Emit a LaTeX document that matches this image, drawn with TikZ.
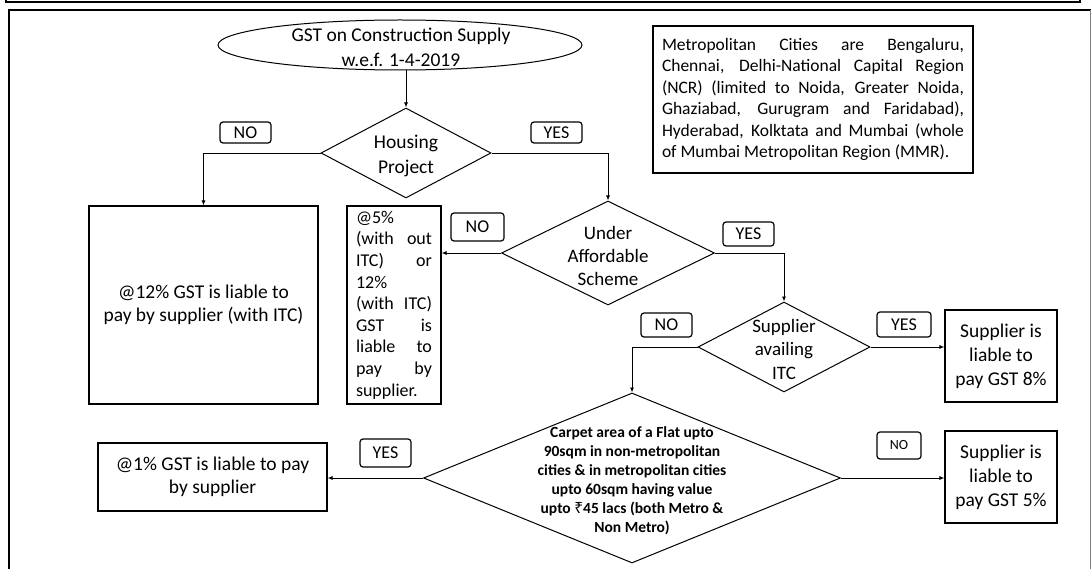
\documentclass[tikz,border=0pt]{standalone}
\usepackage{fontspec}
\setmainfont{Carlito}
\newfontfamily\rupeefont{Noto Sans}
\usetikzlibrary{shapes.geometric,arrows.meta}
\newcommand\fsz[2]{\fontsize{#1}{#2}\selectfont}
\tikzset{
  conn/.style={line width=0.9pt, -{Latex[length=5pt,width=4pt]}},
  dia/.style={draw, diamond, line width=1pt, inner sep=0pt},
  box/.style={draw, rectangle, line width=1.1pt, inner sep=0pt, align=center},
  lab/.style={draw, rectangle, rounded corners=3pt, line width=1.2pt, inner sep=0pt, font=\fsz{18}{18}},
  txt/.style={inner sep=0pt, align=center},
}
\begin{document}
\begin{tikzpicture}[x=1pt,y=-1pt]
\useasboundingbox (0,0) rectangle (1091,569);
% frame
\draw[line width=1.6pt] (6,-6) -- (6,2) -- (1080,2) -- (1080,-6);
\draw[line width=2pt] (8,10) -- (1092,10);
\draw[line width=1.5pt] (9,10) -- (9,570);
\draw[gray, line width=0.8pt] (1090,10) -- (1090,570);

% start ellipse
\node[draw, ellipse, line width=1pt, minimum width=364pt, minimum height=50pt, inner sep=0pt] (start) at (400,45) {};
\node[txt, font=\fsz{19.5}{25}] (startt) at (401,47) {GST on Construction Supply\\w.e.f. 1-4-2019};

% diamonds
\node[dia, minimum width=170pt, minimum height=90pt] (housing) at (406,153) {};
\node[txt, font=\fsz{19.5}{25}] (housingt) at (406,156) {Housing\\Project};

\node[dia, minimum width=213pt, minimum height=104pt] (under) at (608,253) {};
\node[txt, font=\fsz{19}{23}] (undert) at (608,256) {Under\\Affordable\\Scheme};

\node[dia, minimum width=172pt, minimum height=90pt] (supp) at (784,347) {};
\node[txt, font=\fsz{19}{23.5}] (suppt) at (784,349) {Supplier\\availing\\ITC};

\node[dia, minimum width=417pt, minimum height=170pt] (carpet) at (632,478) {};
\node[txt, font=\bfseries\fsz{15.5}{19}] (carpett) at (632,481) {Carpet area of a Flat upto\\90sqm in non-metropolitan\\cities \& in metropolitan cities\\upto 60sqm having value\\upto {\rupeefont ₹}45 lacs (both Metro \&\\Non Metro)};

% boxes
\node[box, minimum width=229pt, minimum height=198pt, font=\fsz{19.5}{23}] (b12) at (203.5,305) {@12\% GST is liable to\\pay by supplier (with ITC)};
\node[box, minimum width=94pt, minimum height=198pt, font=\fsz{18}{21.6}, align=left] (b5) at (394,305) {\makebox[76pt][l]{@5\%}\\\makebox[76pt][s]{(with out}\\\makebox[76pt][s]{ITC) or}\\\makebox[76pt][l]{12\%}\\\makebox[76pt][s]{(with ITC)}\\\makebox[76pt][s]{GST is}\\\makebox[76pt][s]{liable to}\\\makebox[76pt][s]{pay by}\\\makebox[76pt][l]{supplier.}};
\node[box, minimum width=229pt, minimum height=68pt, font=\fsz{19.5}{23}] (b1) at (212.5,477) {@1\% GST is liable to pay\\by supplier};
\node[box, minimum width=112pt, minimum height=92pt, font=\fsz{19.5}{24}] (b8) at (1001,356) {Supplier is\\liable to\\pay GST 8\%};
\node[box, minimum width=112pt, minimum height=92pt, font=\fsz{19.5}{24}] (b5b) at (1001,477) {Supplier is\\liable to\\pay GST 5\%};
\node[box, minimum width=320pt, minimum height=147pt, font=\fsz{17.5}{21.5}, align=left] (info) at (813,99.5) {\makebox[302pt][s]{Metropolitan Cities are Bengaluru,}\\\makebox[302pt][s]{Chennai, Delhi-National Capital Region}\\\makebox[302pt][s]{(NCR) (limited to Noida, Greater Noida,}\\\makebox[302pt][s]{Ghaziabad, Gurugram and Faridabad),}\\\makebox[302pt][s]{Hyderabad, Kolktata and Mumbai (whole}\\\makebox[302pt][l]{of Mumbai Metropolitan Region (MMR).}};

% labels
\node[lab, minimum width=51pt, minimum height=21pt] (no1) at (245.5,132.5) {NO};
\node[lab, minimum width=51pt, minimum height=21pt] (yes1) at (556.5,132.5) {YES};
\node[lab, minimum width=53pt, minimum height=28pt] (no2) at (477.5,227) {NO};
\node[lab, minimum width=51pt, minimum height=24pt] (yes2) at (748.5,234) {YES};
\node[lab, minimum width=51pt, minimum height=24pt] (no3) at (666.5,325) {NO};
\node[lab, minimum width=54pt, minimum height=25pt] (yes3) at (904,324.5) {YES};
\node[lab, minimum width=51pt, minimum height=28pt] (yes4) at (385.5,453) {YES};
\node[lab, minimum width=44pt, minimum height=27pt, font=\fsz{14}{14}] (no4) at (899,445.5) {NO};

% connectors
\draw[conn] (housing.north |- start.south) -- (housing.north);
\draw[conn] (housing.west) -| (b12.north);
\draw[conn] (housing.east) -| (under.north);
\draw[conn] (under.west) -- (b5.east |- under.west);
\draw[conn] (under.east) -| (supp.north);
\draw[conn] (supp.east) -- (b8.west |- supp.east);
\draw[conn] (supp.west) -| (carpet.north);
\draw[conn] (carpet.west) -- (b1.east |- carpet.west);
\draw[conn] (carpet.east) -- (b5b.west |- carpet.east);
\end{tikzpicture}
\end{document}
